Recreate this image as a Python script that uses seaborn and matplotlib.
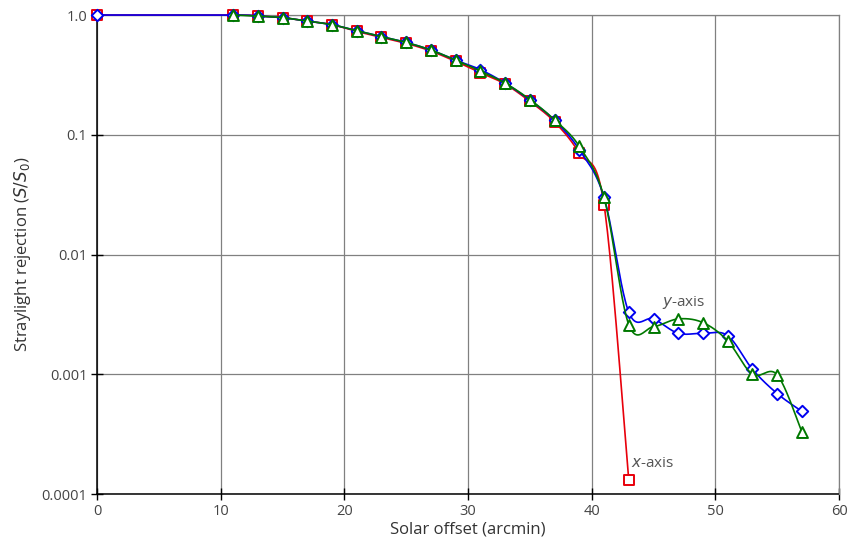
import numpy as np
import pandas as pd
import matplotlib
matplotlib.use("Agg")
import matplotlib.pyplot as plt
import seaborn as sns

# solar offset (arcmin) and straylight rejection S/S0 for each scan
x_red = [0, 11, 13, 15, 17, 19, 21, 23, 25, 27, 29, 31, 33, 35, 37, 39, 41, 43]
y_red = [1.0, 1.0, 0.98, 0.95, 0.89, 0.83, 0.73, 0.65, 0.58, 0.50, 0.41, 0.33,
         0.265, 0.19, 0.128, 0.070, 0.026, 0.00013]

x_blue = [0, 11, 13, 15, 17, 19, 21, 23, 25, 27, 29, 31, 33, 35, 37, 39, 41,
          43, 45, 47, 49, 51, 53, 55, 57]
y_blue = [1.0, 1.0, 0.98, 0.95, 0.89, 0.83, 0.74, 0.66, 0.59, 0.51, 0.42, 0.35,
          0.27, 0.195, 0.132, 0.075, 0.030,
          0.0033, 0.0029, 0.0022, 0.0022, 0.0021, 0.0011, 0.00069, 0.00049]

x_green = [11, 13, 15, 17, 19, 21, 23, 25, 27, 29, 31, 33, 35, 37, 39, 41,
           43, 45, 47, 49, 51, 53, 55, 57]
y_green = [1.0, 0.98, 0.95, 0.89, 0.83, 0.74, 0.66, 0.59, 0.51, 0.42, 0.34,
           0.27, 0.197, 0.133, 0.080, 0.030,
           0.0026, 0.0025, 0.0029, 0.0027, 0.0019, 0.0010, 0.00099, 0.00033]

y_ticks = [0.0001, 0.001, 0.01, 0.1, 1.0]
y_ticklabels = ["0.0001", "0.001", "0.01", "0.1", "1.0"]
x_ticks = [0, 10, 20, 30, 40, 50, 60]


def smooth(xs, ys, n=24):
    # spreadsheet-style smoothed line (Catmull-Rom Bezier) in x / log10(y)
    p = np.column_stack([xs, np.log10(ys)])
    pts = np.vstack([p[0], p, p[-1]])
    out = []
    for i in range(1, len(pts) - 2):
        p0, p1, p2, p3 = pts[i - 1], pts[i], pts[i + 1], pts[i + 2]
        c1 = p1 + (p2 - p0) / 6
        c2 = p2 - (p3 - p1) / 6
        t = np.linspace(0, 1, n)[:, None]
        seg = ((1 - t) ** 3) * p1 + 3 * ((1 - t) ** 2) * t * c1 + 3 * (1 - t) * t ** 2 * c2 + t ** 3 * p2
        out.append(seg)
    s = np.vstack(out)
    return pd.DataFrame({"x": s[:, 0], "y": 10 ** s[:, 1]})


sns.set_style("ticks")
plt.rcParams["font.family"] = ["Open Sans", "DejaVu Sans"]

fig = plt.figure(figsize=(8.48, 5.46), dpi=100)
ax = fig.add_axes([0.1144, 0.0952, 0.8750, 0.8773])

series = [
    (x_red, y_red, "#e8000b", "s", 52),
    (x_blue, y_blue, "#0000f0", "D", 34),
    (x_green, y_green, "#007800", "^", 62),
]
for z, (xs, ys, col, mk, sz) in enumerate(series):
    sm = smooth(xs, ys)
    sns.lineplot(data=sm, x="x", y="y", sort=False, estimator=None, color=col,
                 linewidth=1.2, ax=ax, zorder=3 + 2 * z, clip_on=False)
    sns.scatterplot(x=xs, y=ys, marker=mk, s=sz, facecolor="white",
                    edgecolor=col, linewidth=1.4, ax=ax, zorder=4 + 2 * z,
                    clip_on=False)

ax.set_yscale("log")
ax.set_xlim(0, 60)
ax.set_ylim(0.0001, 1.0)
ax.set_yticks(y_ticks)
ax.set_yticklabels(y_ticklabels)
ax.set_xticks(x_ticks)
ax.yaxis.set_minor_locator(matplotlib.ticker.NullLocator())

ax.grid(True, color="#808080", linewidth=0.9)
ax.set_axisbelow(True)
for side in ["top", "right"]:
    ax.spines[side].set_visible(True)
    ax.spines[side].set_color("#808080")
    ax.spines[side].set_linewidth(0.9)
for side in ["left", "bottom"]:
    ax.spines[side].set_color("black")
    ax.spines[side].set_linewidth(1.1)
    ax.spines[side].set_zorder(2)

ax.tick_params(axis="both", direction="inout", length=8, width=1.0,
               color="black", labelsize=10.5, labelcolor="#444444", pad=3)

ax.set_xlabel("Solar offset (arcmin)", fontsize=12, color="#333333", labelpad=2)
ax.set_ylabel(r"Straylight rejection ($\mathit{S/S_0}$)", fontsize=12,
              color="#333333", labelpad=6)

ax.text(47.4, 0.0034, r"$\mathit{y}$-axis", fontsize=11, color="#555555",
        ha="center", va="bottom")
ax.text(43.2, 0.000181, r"$\mathit{x}$-axis", fontsize=11, color="#555555",
        ha="left", va="center")

fig.savefig("out.png", dpi=100)
